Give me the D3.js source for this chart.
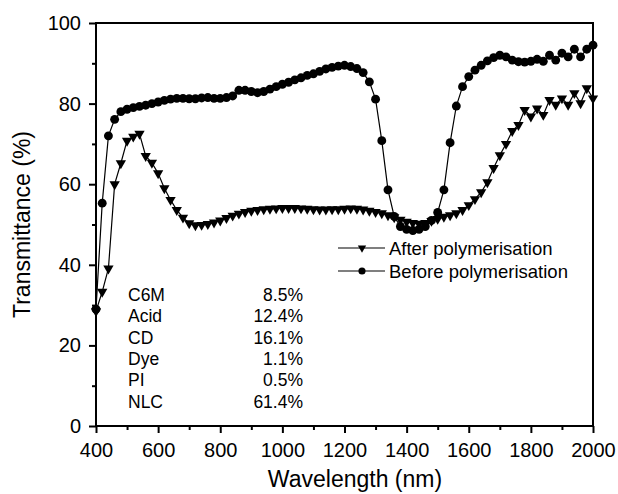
<!DOCTYPE html>
<html>
<head>
<meta charset="utf-8">
<script src="https://cdn.jsdelivr.net/npm/d3@7"></script>
<style>
    html, body { margin: 0; padding: 0; background: #fff; }
    svg text { font-family: "Liberation Sans", Arial, sans-serif; fill: #000; }
</style>
</head>
<body>
<transmittance-chart></transmittance-chart>
<script>
const wavelengths = [
    400, 420, 440, 460, 480, 500, 520, 540, 560, 580,
    600, 620, 640, 660, 680, 700, 720, 740, 760, 780,
    800, 820, 840, 860, 880, 900, 920, 940, 960, 980,
    1000, 1020, 1040, 1060, 1080, 1100, 1120, 1140, 1160, 1180,
    1200, 1220, 1240, 1260, 1280, 1300, 1320, 1340, 1360, 1380,
    1400, 1420, 1440, 1460, 1480, 1500, 1520, 1540, 1560, 1580,
    1600, 1620, 1640, 1660, 1680, 1700, 1720, 1740, 1760, 1780,
    1800, 1820, 1840, 1860, 1880, 1900, 1920, 1940, 1960, 1980,
    2000
];

const afterPolymerisation = [
    28.5, 33.3, 39.1, 60.0, 65.2, 70.8, 71.8, 72.5, 67.0, 65.3,
    62.7, 59.0, 56.1, 53.6, 51.7, 50.3, 49.8, 49.9, 50.1, 50.5,
    51.0, 51.6, 52.2, 52.7, 53.1, 53.4, 53.6, 53.8, 53.9, 54.0,
    54.1, 54.1, 54.1, 54.0, 53.9, 53.8, 53.7, 53.7, 53.8, 53.8,
    53.9, 54.0, 53.9, 53.7, 53.4, 53.1, 52.8, 52.3, 51.8, 51.2,
    50.7, 50.4, 50.2, 50.4, 50.9, 51.4, 51.9, 52.3, 52.8, 53.6,
    54.8, 56.3, 58.0, 60.5, 64.0, 67.2, 70.0, 73.2, 74.7, 78.4,
    76.8, 78.8, 77.2, 80.9, 79.7, 81.3, 79.7, 82.6, 80.1, 83.8,
    81.3
];

const beforePolymerisation = [
    29.0, 55.3, 72.0, 76.1, 78.0, 78.6, 79.0, 79.3, 79.6, 80.0,
    80.4, 80.8, 81.1, 81.3, 81.3, 81.2, 81.2, 81.4, 81.5, 81.3,
    81.3, 81.5, 81.9, 83.3, 83.3, 83.0, 82.7, 83.0, 83.6, 84.2,
    84.8, 85.3, 85.9, 86.4, 87.0, 87.4, 88.0, 88.6, 89.0, 89.3,
    89.5, 89.2, 88.7, 87.7, 85.4, 81.1, 70.8, 58.6, 52.0, 49.5,
    48.8, 48.5, 48.8, 49.5, 51.0, 53.0, 58.6, 70.3, 79.4, 84.2,
    86.7, 88.3, 89.5, 90.6, 91.4, 92.0, 91.6, 90.8, 90.4, 90.3,
    90.5, 91.0, 90.5, 92.0, 90.8, 92.5, 91.6, 93.5, 91.6, 93.5,
    94.5
];

const seriesNames = ['After polymerisation', 'Before polymerisation'];

const xTicks = [400, 600, 800, 1000, 1200, 1400, 1600, 1800, 2000];
const xMinorTicks = [500, 700, 900, 1100, 1300, 1500, 1700, 1900];
const yTicks = [0, 20, 40, 60, 80, 100];
const yMinorTicks = [10, 30, 50, 70, 90];

const components = ['C6M', 'Acid', 'CD', 'Dye', 'PI', 'NLC'];
const componentShares = ['8.5%', '12.4%', '16.1%', '1.1%', '0.5%', '61.4%'];

class TransmittanceChart extends HTMLElement {
    constructor() {
        super();

        this.width = 618;
        this.height = 494;
        this.margin = { top: 23, right: 25, bottom: 68, left: 96 };

        this.svg = d3.select(this).append('svg')
            .attr('width', this.width)
            .attr('height', this.height)
            .style('display', 'block');
    }
    //_________________________________________________________________________________________
    //
    connectedCallback() {
        this.#createScales();
        this.#drawAxes();
        this.#drawSeries();
        this.#drawLegend();
        this.#drawComposition();
    }
    //____________________________________________________________
    //
    #createScales() {
        const m = this.margin;

        this.x = d3.scaleLinear()
            .domain([400, 2000])
            .range([m.left, this.width - m.right]);

        this.y = d3.scaleLinear()
            .domain([0, 100])
            .range([this.height - m.bottom, m.top]);
    }
    //____________________________________________________________
    //
    #drawAxes() {
        const [x0, x1] = this.x.range();
        const [y0, y1] = this.y.range();

        const xAxis = this.svg.append('g')
            .attr('transform', `translate(0,${y0})`)
            .call(d3.axisBottom(this.x).tickValues(xTicks).tickFormat(d3.format('d'))
                .tickSize(7).tickSizeOuter(0).tickPadding(10));

        this.svg.append('g')
            .attr('transform', `translate(0,${y0})`)
            .call(d3.axisBottom(this.x).tickValues(xMinorTicks).tickSize(4).tickSizeOuter(0).tickFormat(''));

        const yAxis = this.svg.append('g')
            .attr('transform', `translate(${x0},0)`)
            .call(d3.axisLeft(this.y).tickValues(yTicks).tickFormat(d3.format('d'))
                .tickSize(7).tickSizeOuter(0).tickPadding(8));

        this.svg.append('g')
            .attr('transform', `translate(${x0},0)`)
            .call(d3.axisLeft(this.y).tickValues(yMinorTicks).tickSize(4).tickSizeOuter(0).tickFormat(''));

        this.svg.selectAll('.domain').remove();
        this.svg.selectAll('.tick line').attr('stroke', '#000').attr('stroke-width', 2);

        xAxis.selectAll('text').style('font-size', '20px');
        yAxis.selectAll('text').style('font-size', '20px');

        // plot frame
        this.svg.append('rect')
            .attr('x', x0)
            .attr('y', y1)
            .attr('width', x1 - x0)
            .attr('height', y0 - y1)
            .attr('fill', 'none')
            .attr('stroke', '#000')
            .attr('stroke-width', 2);

        this.svg.append('text')
            .attr('x', 355)
            .attr('y', 487)
            .attr('text-anchor', 'middle')
            .style('font-size', '23px')
            .text('Wavelength (nm)');

        this.svg.append('text')
            .attr('transform', `translate(30,${(y0 + y1) / 2}) rotate(-90)`)
            .attr('text-anchor', 'middle')
            .style('font-size', '23px')
            .text('Transmittance (%)');
    }
    //_______________________________________________________________________________________
    //
    #drawSeries() {
        const line = d3.line()
            .x(d => this.x(d.wl))
            .y(d => this.y(d.t));

        const toPoints = values => wavelengths.map((wl, i) => ({ wl, t: values[i] }));

        const series = [
            { points: toPoints(beforePolymerisation), symbol: d3.symbol(d3.symbolCircle, 62), rotate: 0 },
            { points: toPoints(afterPolymerisation), symbol: d3.symbol(d3.symbolTriangle, 46), rotate: 180 }
        ];

        series.forEach(s => {
            const g = this.svg.append('g');

            g.append('path')
                .attr('d', line(s.points))
                .attr('fill', 'none')
                .attr('stroke', '#000')
                .attr('stroke-width', 1.2);

            g.selectAll('path.marker')
                .data(s.points)
                .join('path')
                .attr('class', 'marker')
                .attr('d', s.symbol)
                .attr('transform', d => `translate(${this.x(d.wl)},${this.y(d.t)}) rotate(${s.rotate})`)
                .attr('fill', '#000');
        });
    }
    //_______________________________________________________________________________________
    //
    #drawLegend() {
        const symbols = [
            { shape: d3.symbol(d3.symbolTriangle, 30), rotate: 180 },
            { shape: d3.symbol(d3.symbolCircle, 40), rotate: 0 }
        ];

        const legend = this.svg.append('g')
            .selectAll('g')
            .data(seriesNames)
            .join('g')
            .attr('transform', (d, i) => `translate(0,${248 + i * 23})`);

        legend.append('line')
            .attr('x1', 338)
            .attr('x2', 385)
            .attr('stroke', '#000')
            .attr('stroke-width', 1.2);

        legend.append('path')
            .attr('d', (d, i) => symbols[i].shape())
            .attr('transform', (d, i) => `translate(362,0) rotate(${symbols[i].rotate})`)
            .attr('fill', '#000');

        legend.append('text')
            .attr('x', 389)
            .attr('y', 7)
            .style('font-size', '18.5px')
            .text(d => d);
    }
    //_______________________________________________________________________________________
    //
    #drawComposition() {
        const rows = this.svg.append('g')
            .selectAll('g')
            .data(components)
            .join('g')
            .attr('transform', (d, i) => `translate(0,${301 + i * 21.3})`);

        rows.append('text')
            .attr('x', 128)
            .style('font-size', '17.5px')
            .text(d => d);

        rows.append('text')
            .attr('x', 303)
            .attr('text-anchor', 'end')
            .style('font-size', '17.5px')
            .text((d, i) => componentShares[i]);
    }
    //_______________________________________________________________________________________
    //
    static define(tag = 'transmittance-chart') {
        customElements.define(tag, this);
    }
}

TransmittanceChart.define();
</script>
</body>
</html>
